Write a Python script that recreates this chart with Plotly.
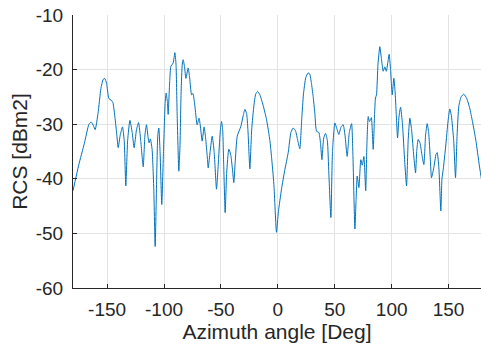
import plotly.graph_objects as go

azimuth_deg = [
    -180, -175, -170, -166, -164, -162, -160.5, -158, -155.5, -153.5, -152.2, -150.5,
    -148.5, -146.5, -145, -143, -141.5, -140.3, -138.5, -136.5, -135, -133.6, -132, -130,
    -128, -126.3, -124.2, -122.4, -120.5, -118.3, -116.8, -115.4, -114, -113.1, -112, -110.5,
    -109, -107.8, -106.5, -105.5, -104.6, -103.5, -102, -100.5, -99, -98.2, -97, -96.4,
    -95, -94, -92, -90.5, -89.5, -88.5, -87, -86, -85, -84, -83.2, -82,
    -80.8, -78.8, -77.5, -75.8, -74.6, -73, -70.9, -69.2, -68, -66.5, -64.8, -63.5,
    -62, -61.2, -59.5, -57.7, -56, -53.9, -52, -50.5, -49.5, -48.5, -47.5, -46.3,
    -45, -43.1, -41.5, -40, -38.7, -37.5, -35.7, -32.5, -30.5, -29, -27.5, -26.3,
    -24.6, -23, -21, -19.5, -17.8, -15.8, -13, -9.9, -7.0, -5.6, -3.5, -1.2,
    0.5, 3.2, 6, 9.1, 11.5, 13.5, 15.5, 17.5, 19.3, 21, 22.5, 24.5,
    26.5, 28, 29.5, 31, 32.5, 34, 36, 37.5, 38.7, 40.3, 41.9, 43.5,
    44.8, 46.6, 48, 50.1, 51.8, 53.6, 55.5, 57.4, 59, 60.9, 62.8, 64.8,
    66, 67.7, 68.7, 69.7, 71.2, 72.9, 74.2, 75.6, 77.2, 78.2, 79.4, 80.5,
    81.4, 82.2, 83.8, 85, 85.8, 86.7, 88, 89.6, 91, 92.5, 94, 95.3,
    97.8, 99, 100.5, 101.9, 103, 104, 105.2, 106.5, 107.8, 109.5, 111.5, 113.1,
    114.5, 116, 117.5, 119.5, 121, 122, 123.3, 125, 126.5, 128.3, 129.8, 131.2,
    132.5, 134, 135, 137, 139, 140, 141.5, 143.2, 144.2, 145.3, 147.5, 149.5,
    151.1, 152.5, 154.5, 156.1, 157.5, 159, 161, 163.4, 166, 168.5, 171, 174,
    177, 180,
]

rcs_dbm2 = [
    -42.2, -37.5, -33.5, -30.0, -29.6, -30.3, -31.0, -28.0, -23.5, -21.8, -21.6, -22.5,
    -25.3, -25.6, -26.0, -29.0, -32.0, -34.3, -32.0, -30.5, -33.0, -41.3, -33.0, -29.3,
    -31.5, -34.3, -31.0, -29.7, -33.0, -37.8, -32.0, -30.1, -32.5, -33.4, -32.7, -34.6,
    -42.0, -52.4, -40.0, -32.0, -30.7, -35.0, -44.7, -35.0, -26.0, -24.3, -26.0, -28.2,
    -22.0, -19.4, -18.8, -16.9, -19.0, -28.0, -38.6, -34.0, -24.0, -19.0, -18.2, -19.5,
    -21.6, -19.7, -21.5, -24.6, -24.4, -26.5, -30.1, -28.9, -30.5, -33.1, -30.5, -32.5,
    -36.0, -38.0, -35.0, -32.2, -35.0, -41.9, -36.0, -31.0, -29.5, -31.0, -38.0, -46.2,
    -39.0, -34.6, -35.5, -38.0, -40.7, -37.0, -32.2, -30.4, -28.5, -27.3, -28.0, -31.0,
    -38.2, -31.0, -26.5, -24.5, -24.0, -24.6, -26.5, -29.2, -33.0, -35.9, -41.0, -49.8,
    -46.0, -41.9, -38.5, -35.2, -31.5, -30.7, -31.2, -33.0, -34.5, -29.0, -24.5, -21.5,
    -20.6, -20.8, -22.5, -24.9, -28.0, -31.3, -31.5, -33.5, -36.5, -32.5, -31.7, -33.0,
    -39.0, -47.1, -35.0, -29.8, -30.8, -31.9, -30.5, -30.1, -32.0, -35.9, -31.5, -29.9,
    -36.0, -49.2, -44.0, -39.5, -41.6, -36.5, -37.5, -35.9, -42.2, -34.0, -28.6, -29.5,
    -29.2, -28.8, -34.6, -28.0, -25.2, -24.6, -19.0, -15.8, -18.0, -20.3, -19.5, -20.3,
    -17.2, -20.0, -24.6, -21.6, -24.0, -28.0, -32.5, -28.5, -26.9, -30.0, -37.0, -41.3,
    -33.0, -28.9, -31.0, -36.0, -38.9, -35.0, -32.8, -33.5, -35.5, -37.4, -32.0, -29.9,
    -31.5, -36.5, -39.8, -38.0, -35.5, -35.2, -38.0, -45.9, -40.0, -38.3, -34.0, -29.5,
    -27.2, -28.5, -33.0, -39.8, -32.0, -26.7, -25.0, -24.5, -25.3, -27.0, -29.5, -33.0,
    -37.5, -41.5,
]

x_ticks = [-150, -100, -50, 0, 50, 100, 150]
y_ticks = [-60, -50, -40, -30, -20, -10]

fig = go.Figure()
fig.add_trace(go.Scatter(
    x=azimuth_deg, y=rcs_dbm2, mode="lines",
    line=dict(color="#0072BD", width=1, shape="spline", smoothing=0.5),
    showlegend=False,
))

axis_font = dict(family="Liberation Sans, Arial, sans-serif", size=19, color="#262626")
title_font = dict(family="Liberation Sans, Arial, sans-serif", size=21, color="#262626")

fig.update_layout(
    width=481, height=345,
    margin=dict(l=73, r=0, t=15, b=57),
    paper_bgcolor="white", plot_bgcolor="white",
    xaxis=dict(
        range=[-180, 178.5], tickvals=x_ticks, ticktext=[str(v) for v in x_ticks],
        showgrid=True, gridcolor="#e3e3e3", gridwidth=1,
        showline=True, linecolor="#262626", linewidth=1,
        ticks="inside", ticklen=4, tickcolor="#262626",
        tickfont=axis_font, zeroline=False, ticklabelstandoff=4,
        title=dict(text="Azimuth angle [Deg]", font=title_font, standoff=5),
    ),
    yaxis=dict(
        range=[-60, -10], tickvals=y_ticks, ticktext=[str(v) for v in y_ticks],
        showgrid=True, gridcolor="#e3e3e3", gridwidth=1,
        showline=True, linecolor="#262626", linewidth=1,
        ticks="inside", ticklen=4, tickcolor="#262626",
        tickfont=axis_font, zeroline=False, ticklabelstandoff=5,
        title=dict(text="RCS [dBm2]", font=title_font, standoff=2),
    ),
)

fig.write_html(
    "out.html",
    config={"displayModeBar": False},
    post_script="document.body.style.margin='0';document.body.style.overflow='hidden';",
)
